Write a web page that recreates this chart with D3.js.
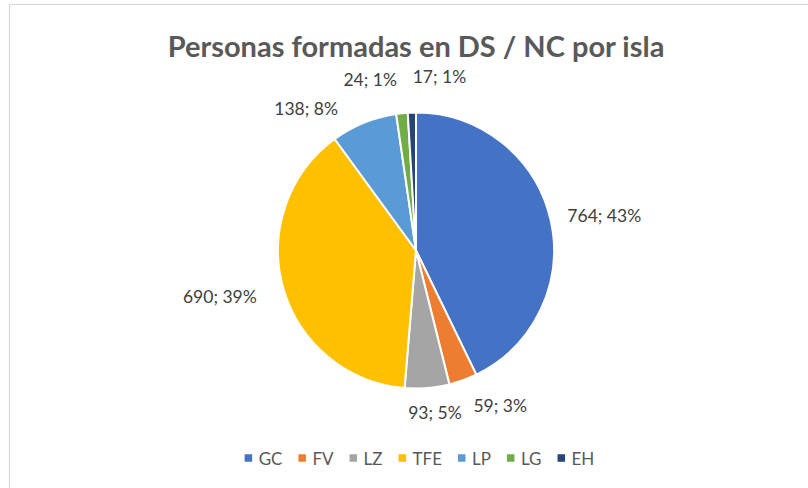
<!DOCTYPE html>
<html>
<head>
<meta charset="utf-8">
<script src="https://cdn.jsdelivr.net/npm/d3@7"></script>
<style>
  html, body { margin: 0; padding: 0; background: #fff; }
  svg { display: block; }
</style>
</head>
<body>
<svg id="chart" width="808" height="488"></svg>
<script>
// Islands and number of people trained per island
const islands = ["GC", "FV", "LZ", "TFE", "LP", "LG", "EH"];
const people = [764, 59, 93, 690, 138, 24, 17];
const sliceColors = ["#4472C4", "#ED7D31", "#A5A5A5", "#FFC000", "#5B9BD5", "#70AD47", "#264478"];
const chartTitle = "Personas formadas en DS / NC por isla";

const W = 808, H = 488;
const cx = 416, cy = 250.5, radius = 138;
const labelRadius = 185;
const fontFamily = "Lato, 'Open Sans', 'Liberation Sans', sans-serif";

// Fine adjustments of each data label around its default outside position
const labelNudge = {
  GC: [8, 6], FV: [21, -19], LZ: [4, -22], TFE: [-18, -4],
  LP: [-40, 29], LG: [-27, 13], EH: [29, 11]
};

const svg = d3.select("#chart");

// Chart area frame
svg.append("rect")
  .attr("x", 9.5).attr("y", 4.5)
  .attr("width", W).attr("height", H)
  .attr("fill", "#fff")
  .attr("stroke", "#d9d9d9")
  .attr("stroke-width", 1.2);

// Title
svg.append("text")
  .attr("x", cx).attr("y", 45)
  .attr("text-anchor", "middle")
  .attr("dominant-baseline", "central")
  .attr("font-family", fontFamily)
  .attr("font-weight", "bold")
  .attr("font-size", 29)
  .attr("fill", "#595959")
  .text(chartTitle);

const rows = islands.map((k, i) => ({ key: k, value: people[i], color: sliceColors[i] }));
const total = d3.sum(people);

const pie = d3.pie().value(d => d.value).sort(null);
const arcs = pie(rows);
const arc = d3.arc().innerRadius(0).outerRadius(radius);
const labelArc = d3.arc().innerRadius(labelRadius).outerRadius(labelRadius);

const g = svg.append("g").attr("transform", `translate(${cx},${cy})`);

g.selectAll("path.slice")
  .data(arcs)
  .join("path")
  .attr("class", "slice")
  .attr("d", arc)
  .attr("fill", d => d.data.color)
  .attr("stroke", "#fff")
  .attr("stroke-width", 2)
  .attr("stroke-linejoin", "round");

// Data labels: "value; percent"
g.selectAll("text.lbl")
  .data(arcs)
  .join("text")
  .attr("class", "lbl")
  .attr("x", d => labelArc.centroid(d)[0] + labelNudge[d.data.key][0])
  .attr("y", d => labelArc.centroid(d)[1] + labelNudge[d.data.key][1])
  .attr("text-anchor", "middle")
  .attr("dominant-baseline", "central")
  .attr("font-family", fontFamily)
  .attr("font-size", 17.5)
  .attr("fill", "#404040")
  .text(d => `${d.data.value}; ${Math.round(d.data.value / total * 100)}%`);

// Legend, centred below the pie
const legend = svg.append("g");
const items = legend.selectAll("g.item")
  .data(rows)
  .join("g")
  .attr("class", "item");
items.append("rect")
  .attr("width", 7.5).attr("height", 7.5)
  .attr("y", -3.75)
  .attr("fill", d => d.color);
items.append("text")
  .attr("x", 14)
  .attr("dominant-baseline", "central")
  .attr("font-family", fontFamily)
  .attr("font-size", 17)
  .attr("fill", "#595959")
  .text(d => d.key);

let xPos = 0;
items.each(function () {
  const t = d3.select(this).select("text").node().getComputedTextLength();
  d3.select(this).attr("transform", `translate(${xPos},0)`);
  xPos += 14 + t + 16;
});
const legendWidth = xPos - 16;
legend.attr("transform", `translate(${419.5 - legendWidth / 2},458)`);
</script>
</body>
</html>
